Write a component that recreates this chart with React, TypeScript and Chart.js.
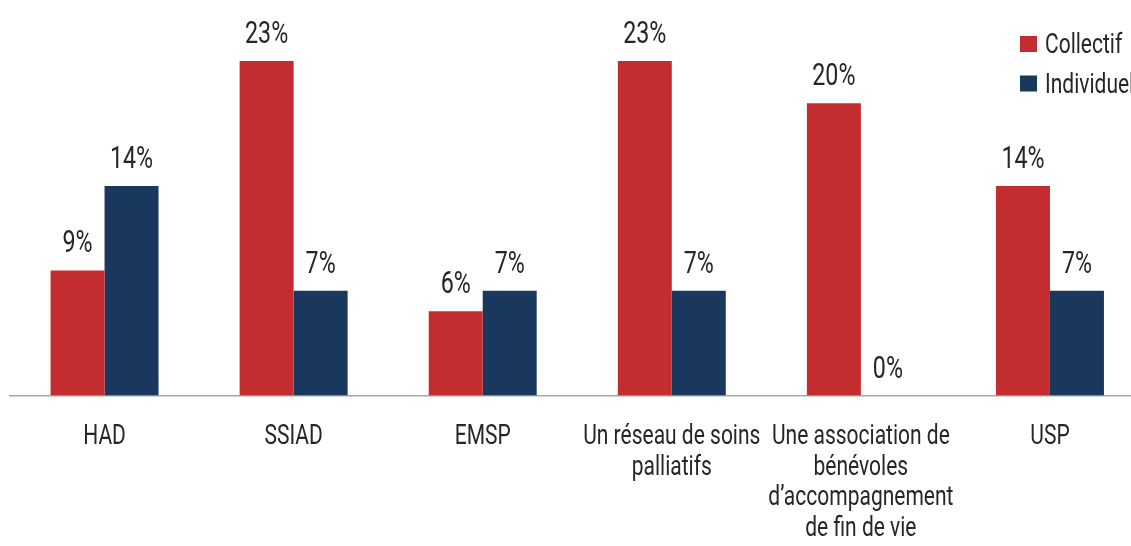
import React, { useEffect, useRef } from "react";
import { Chart, registerables } from "chart.js";

Chart.register(...registerables);

// ---- data ----
const categories: (string | string[])[] = [
  "HAD",
  "SSIAD",
  "EMSP",
  ["Un réseau de soins", "palliatifs"],
  ["Une association de", "bénévoles", "d’accompagnement", "de fin de vie"],
  "USP",
];
const seriesNames = ["Collectif", "Individuel"];
const collectifValues = [8.6, 23.0, 5.8, 23.0, 20.1, 14.4];
const individuelValues = [14.4, 7.2, 7.2, 7.2, 0, 7.2];
const valueSuffix = "%";

// ---- styles ----
const FONT = "Roboto, 'Liberation Sans', sans-serif";
const SX = 0.75; // horizontal condensing of text (no condensed face installed)
const TEXT = "#262626";
const RED = "#C42D2F";
const BLUE = "#1A375E";

function drawText(ctx: CanvasRenderingContext2D, text: string, x: number, y: number, align: CanvasTextAlign) {
  ctx.save();
  ctx.translate(x, y);
  ctx.scale(SX, 1);
  ctx.textAlign = align;
  ctx.fillText(text, 0, 0);
  ctx.restore();
}

const dataLabelPlugin = {
  id: "dataLabels",
  afterDatasetsDraw(chart: any) {
    const ctx = chart.ctx;
    ctx.save();
    ctx.font = `31px ${FONT}`;
    ctx.fillStyle = TEXT;
    ctx.textBaseline = "alphabetic";
    chart.data.datasets.forEach((ds: any, di: number) => {
      const meta = chart.getDatasetMeta(di);
      meta.data.forEach((el: any, i: number) => {
        const v = ds.data[i];
        drawText(ctx, `${Math.round(v)}${valueSuffix}`, el.x, el.y - 18, "center");
      });
    });
    ctx.restore();
  },
};

const tickLabelPlugin = {
  id: "tickLabels",
  afterDraw(chart: any) {
    const ctx = chart.ctx;
    const xs = chart.scales.x;
    const lineH = 30.7;
    ctx.save();
    ctx.font = `28px ${FONT}`;
    ctx.fillStyle = TEXT;
    ctx.textBaseline = "middle";
    (chart.data.labels as any[]).forEach((lab, i) => {
      const lines = Array.isArray(lab) ? lab : [lab];
      const x = xs.getPixelForTick(i);
      lines.forEach((line: string, j: number) => {
        drawText(ctx, line, x, xs.top + 26 + lineH / 2 + j * lineH, "center");
      });
    });
    ctx.restore();
  },
};

const legendPlugin = {
  id: "customLegend",
  afterDraw(chart: any) {
    const ctx = chart.ctx;
    ctx.save();
    ctx.font = `28px ${FONT}`;
    ctx.textBaseline = "alphabetic";
    chart.data.datasets.forEach((ds: any, i: number) => {
      const y = 36 + i * 39.5;
      ctx.fillStyle = ds.backgroundColor;
      ctx.fillRect(1020, y, 17, 16);
      ctx.fillStyle = TEXT;
      drawText(ctx, ds.label, 1045, y + 17, "left");
    });
    ctx.restore();
  },
};

export default function App() {
  const ref = useRef<HTMLCanvasElement | null>(null);

  useEffect(() => {
    if (!ref.current) return;
    const chart = new Chart(ref.current, {
      type: "bar",
      data: {
        labels: categories,
        datasets: [
          { label: seriesNames[0], data: collectifValues, backgroundColor: RED, borderWidth: 0 },
          { label: seriesNames[1], data: individuelValues, backgroundColor: BLUE, borderWidth: 0 },
        ],
      },
      options: {
        responsive: false,
        animation: false,
        layout: { padding: { left: 10, right: 5.5, top: 32, bottom: 0 } },
        datasets: { bar: { barPercentage: 1, categoryPercentage: 0.571 } },
        plugins: {
          legend: { display: false },
          tooltip: { enabled: false },
        },
        scales: {
          x: {
            grid: { display: false, drawTicks: false },
            border: { display: true, color: "#A6A6A6", width: 1.5 },
            ticks: { display: false, autoSkip: false },
            afterFit: (scale: any) => {
              scale.height = 150.5;
            },
          },
          y: {
            display: false,
            min: 0,
            max: 25,
          },
        },
      },
      plugins: [dataLabelPlugin, tickLabelPlugin, legendPlugin],
    });
    return () => chart.destroy();
  }, []);

  return (
    <div style={{ position: "fixed", left: 0, top: 0, width: 1131, height: 546, overflow: "hidden", background: "#fff" }}>
      <canvas ref={ref} width={1150} height={546} style={{ display: "block" }} />
    </div>
  );
}
